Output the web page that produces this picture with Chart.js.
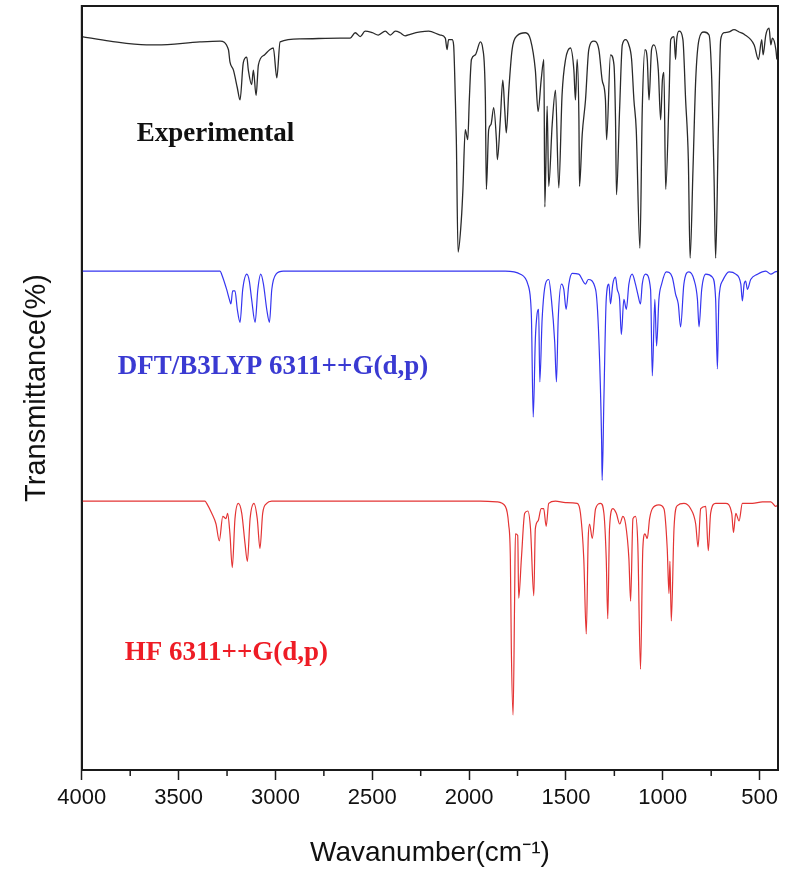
<!DOCTYPE html>
<html>
<head>
<meta charset="utf-8">
<script src="https://cdn.jsdelivr.net/npm/chart.js@4"></script>
<style>
  html, body { margin: 0; padding: 0; background: #fff; }
  #wrap { width: 795px; height: 879px; position: relative; }
</style>
</head>
<body>
<div id="wrap"><canvas id="grafico"></canvas></div>
<script>
// Experimental spectrum (wavenumber cm-1 / transmittance, offset stack units)
const expWavenumber = [4000,3855,3666,3614,3390,3286,3243,3235,3217,3197,3183,3166,3148,3140,3123,3114,3100,3088,3057,3028,3011,2993,2976,2873,2666,2614,2588,2562,2537,2500,2469,2433,2407,2381,2356,2330,2304,2252,2209,2149,2123,2114,2106,2088,2080,2071,2066,2057,2040,2032,2020,2007,1999,1988,1968,1942,1930,1916,1911,1899,1887,1873,1859,1854,1839,1826,1816,1808,1795,1778,1752,1709,1683,1658,1644,1628,1614,1609,1597,1589,1571,1554,1537,1520,1502,1477,1459,1451,1442,1433,1430,1416,1399,1382,1356,1330,1313,1296,1290,1270,1252,1244,1239,1223,1209,1192,1175,1161,1149,1137,1118,1106,1092,1080,1071,1058,1046,1023,1011,1002,994,985,968,959,942,934,928,916,896,882,868,859,844,830,813,787,761,747,735,727,713,701,684,658,632,606,580,528,506,489,482,468,451,442,434,416,411];
const expT = [96.0,95.4,94.9,94.9,95.3,95.4,94.3,92.7,91.6,89.3,87.7,92.6,93.3,91.6,89.7,91.6,88.3,92.3,93.6,94.3,94.5,90.6,95.3,95.7,95.8,95.8,96.5,96.0,96.7,96.5,96.2,96.7,96.2,96.7,96.5,96.1,96.3,96.6,96.7,96.2,95.8,94.3,95.6,95.6,94.9,87.7,82.5,67.8,72.1,76.0,83.8,82.5,87.7,93.0,93.6,95.3,94.5,87.7,76.0,83.8,84.5,86.7,82.5,79.9,85.1,90.3,86.4,83.4,89.0,94.3,96.1,96.5,95.6,91.6,86.2,90.3,93.0,73.7,86.9,76.4,84.5,89.0,76.2,88.4,93.0,94.5,91.6,87.7,93.0,85.1,76.4,83.2,87.7,94.3,95.4,94.3,90.3,87.7,82.5,93.6,92.3,85.1,75.3,86.4,94.9,95.6,94.9,93.0,87.7,83.8,68.3,86.4,94.3,93.0,87.7,94.3,94.9,91.6,85.1,90.3,91.3,76.0,87.7,95.6,96.0,93.0,95.6,96.7,95.6,87.7,79.9,67.0,78.6,90.3,95.6,96.6,96.2,90.3,77.3,67.0,83.8,95.6,96.5,96.6,96.9,96.6,96.3,94.9,93.0,95.6,93.6,96.2,97.1,94.9,95.8,94.3,93.0];

// DFT/B3LYP calculated spectrum
const dftWavenumber = [4000,3286,3278,3252,3238,3230,3221,3209,3197,3183,3169,3148,3135,3123,3105,3091,3076,3062,3045,3031,3019,2997,2959,1813,1735,1697,1683,1678,1669,1658,1649,1641,1635,1623,1606,1589,1575,1558,1549,1540,1523,1511,1499,1485,1468,1434,1399,1385,1347,1330,1316,1313,1304,1292,1278,1270,1258,1244,1235,1223,1214,1201,1188,1175,1158,1141,1129,1115,1106,1089,1063,1054,1041,1032,1020,1006,982,951,934,920,908,891,865,839,821,813,799,778,744,727,718,710,692,658,623,597,589,580,572,563,546,511,468,442,420,401];
const dftT = [65.3,65.3,64.9,62.9,61.6,61.0,62.7,62.7,60.3,58.6,62.9,64.9,64.0,61.6,58.6,62.9,64.9,63.6,60.3,58.6,62.9,64.9,65.3,65.3,64.9,63.6,61.6,59.0,46.2,56.4,59.7,60.3,50.8,59.0,63.6,64.2,61.6,56.0,50.8,59.0,63.6,62.9,60.3,63.6,65.0,64.9,63.6,64.2,62.9,56.4,43.3,37.9,48.6,61.6,63.6,61.0,63.6,64.5,62.9,61.6,57.0,61.6,60.3,63.6,64.9,63.6,62.3,61.0,63.6,64.9,62.9,51.6,61.6,55.5,61.6,63.6,65.2,64.5,62.3,61.0,58.0,63.6,65.2,64.2,61.6,58.0,62.9,64.9,64.5,61.6,52.5,61.6,64.0,65.2,64.9,63.6,61.4,63.6,64.0,62.9,64.2,64.9,65.3,64.9,65.2,65.3];

// HF calculated spectrum
const hfWavenumber = [4000,3364,3355,3329,3307,3290,3272,3255,3247,3235,3223,3209,3192,3174,3157,3145,3131,3111,3094,3080,3066,3045,3019,1942,1856,1813,1796,1787,1782,1773,1765,1761,1749,1744,1730,1713,1697,1683,1666,1658,1644,1628,1615,1602,1589,1554,1502,1442,1425,1408,1395,1385,1378,1364,1347,1321,1304,1292,1284,1275,1258,1240,1222,1206,1192,1175,1166,1154,1141,1129,1115,1103,1092,1080,1068,1054,1020,994,977,968,963,956,942,925,891,856,830,818,804,778,765,753,727,675,644,635,623,606,589,537,485,442,416,401];
const hfT = [35.2,35.2,34.9,33.6,32.2,30.0,33.2,32.9,33.6,30.9,26.5,32.9,34.9,33.6,29.6,27.3,32.9,34.9,32.9,29.0,33.6,34.9,35.2,35.2,35.1,34.5,32.2,27.7,15.9,7.2,22.5,30.9,30.7,22.5,27.7,33.6,33.9,31.6,22.8,31.6,32.6,34.2,34.2,31.9,34.9,35.2,35.0,34.9,33.6,27.7,17.8,30.3,32.2,30.3,34.2,34.9,33.6,27.7,19.8,31.6,34.2,33.6,32.2,33.2,32.2,27.7,22.1,32.9,33.2,29.6,13.2,29.0,30.9,30.3,32.9,34.2,34.7,34.2,29.0,23.1,27.3,19.5,31.6,34.6,34.9,34.2,32.2,29.2,34.2,34.5,28.7,33.6,34.9,34.9,33.6,31.1,33.6,32.6,34.9,34.9,35.1,35.1,34.5,34.9];

// ticks
const majorTicks = [4000, 3500, 3000, 2500, 2000, 1500, 1000, 500];
const minorTicks = [3750, 3250, 2750, 2250, 1750, 1250, 750];

// texto dentro do grafico
const seriesNames = ["Experimental", "DFT/B3LYP 6311++G(d,p)", "HF 6311++G(d,p)"];
const nameWavenumber = [3716, 3814, 3778];
const nameT = [83.2, 52.7, 15.3];
const nameColors = ["#111111", "#3a3ad2", "#ee1c25"];

const toPoints = (xs, ys) => xs.map((x, i) => ({ x: x, y: ys[i] }));

const extras = {
  id: "extras",
  afterDraw(chart) {
    const { ctx, chartArea: a, scales } = chart;
    ctx.save();
    // moldura
    ctx.strokeStyle = "#1a1a1a";
    ctx.lineWidth = 2;
    ctx.strokeRect(a.left, a.top, a.right - a.left, a.bottom - a.top);
    // ticks menores
    ctx.lineWidth = 1.5;
    minorTicks.forEach((v) => {
      const px = scales.x.getPixelForValue(v);
      ctx.beginPath();
      ctx.moveTo(px, a.bottom);
      ctx.lineTo(px, a.bottom + 6);
      ctx.stroke();
    });
    // nomes das curvas
    ctx.font = "bold 27px 'Liberation Serif', 'Times New Roman', serif";
    ctx.textBaseline = "middle";
    ctx.textAlign = "left";
    seriesNames.forEach((name, i) => {
      ctx.fillStyle = nameColors[i];
      ctx.fillText(name, scales.x.getPixelForValue(nameWavenumber[i]), scales.y.getPixelForValue(nameT[i]));
    });
    ctx.restore();
  },
};

new Chart(document.getElementById("grafico"), {
  type: "line",
  data: {
    datasets: [
      {
        label: seriesNames[0],
        data: toPoints(expWavenumber, expT),
        borderColor: "#2a2a2a",
        borderWidth: 1.3,
      },
      {
        label: seriesNames[1],
        data: toPoints(dftWavenumber, dftT),
        borderColor: "#3535f0",
        borderWidth: 1.2,
      },
      {
        label: seriesNames[2],
        data: toPoints(hfWavenumber, hfT),
        borderColor: "#e43434",
        borderWidth: 1.2,
      },
    ],
  },
  options: {
    responsive: true,
    maintainAspectRatio: false,
    animation: false,
    layout: { padding: { left: 10, top: 6, right: 17, bottom: 0 } },
    elements: {
      point: { radius: 0 },
      line: { tension: 0, cubicInterpolationMode: "monotone" },
    },
    plugins: { legend: { display: false }, tooltip: { enabled: false } },
    scales: {
      x: {
        type: "linear",
        reverse: true,
        min: 405,
        max: 4000,
        afterBuildTicks: (scale) => {
          scale.ticks = majorTicks.map((v) => ({ value: v }));
        },
        ticks: {
          color: "#111",
          font: { family: "'Liberation Sans', Arial, sans-serif", size: 22 },
          padding: 5,
          maxRotation: 0,
          autoSkip: false,
          callback: (v) => String(v),
        },
        grid: { drawOnChartArea: false, tickLength: 10, tickColor: "#1a1a1a", tickWidth: 1.5 },
        border: { color: "#1a1a1a", width: 2 },
        title: {
          display: true,
          text: "Wavanumber(cm\u207B\u00B9)",
          color: "#111",
          font: { family: "'Liberation Sans', Arial, sans-serif", size: 28 },
          padding: { top: 20, bottom: 9 },
        },
      },
      y: {
        min: 0,
        max: 100,
        ticks: { display: false },
        grid: { drawOnChartArea: false, drawTicks: false },
        border: { color: "#1a1a1a", width: 2 },
        title: {
          display: true,
          text: "Transmittance(%)",
          color: "#111",
          font: { family: "'Liberation Sans', Arial, sans-serif", size: 29 },
          padding: { top: 10, bottom: 27 },
        },
      },
    },
  },
  plugins: [extras],
});
</script>
</body>
</html>
